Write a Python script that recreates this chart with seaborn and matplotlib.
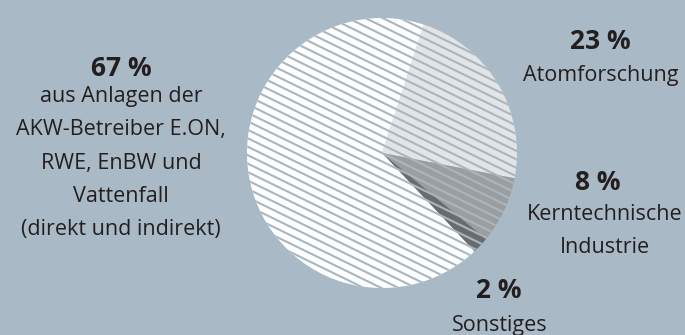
import numpy as np
import matplotlib
matplotlib.use("Agg")
import matplotlib.pyplot as plt
from matplotlib.collections import LineCollection
import seaborn as sns

# ---- data ----
shares = [23, 8, 2, 67]
pct_labels = ["23 %", "8 %", "2 %", "67 %"]
descriptions = [
    "Atomforschung",
    "Kerntechnische\nIndustrie",
    "Sonstiges",
    "aus Anlagen der\nAKW-Betreiber E.ON,\nRWE, EnBW und\nVattenfall\n(direkt und indirekt)",
]
slice_colors = ["#e4e4e4", "#9d9d9d", "#6b6b6b", "#ffffff"]

# ---- style ----
sns.set_theme(style="white")
plt.rcParams["font.family"] = ["Open Sans", "DejaVu Sans"]

W, H = 685, 335
BG = "#a9bac6"
HATCH = "#a6b7c3"
TXT = "#231f20"

fig = plt.figure(figsize=(W / 100, H / 100), dpi=100, facecolor=BG)
ax = fig.add_axes([0, 0, 1, 1])
ax.set_facecolor(BG)

cx, cy, R = 382, H - 153, 135
wedges, _ = ax.pie(shares, colors=slice_colors, startangle=72, counterclock=False,
                   center=(cx, cy), radius=R, wedgeprops=dict(linewidth=0))
ax.set_xlim(0, W)
ax.set_ylim(0, H)
ax.set_aspect("equal")
ax.axis("off")

# diagonal hatching clipped to each wedge
ang = np.deg2rad(-26)
d = np.array([np.cos(ang), np.sin(ang)])
n = np.array([-np.sin(ang), np.cos(ang)])
spacing = 7.6
ks = np.arange(-int(R * 1.2 / spacing), int(R * 1.2 / spacing) + 1)
segs = []
for k in ks:
    p = np.array([cx, cy]) + k * spacing * n
    segs.append([p - 1.3 * R * d, p + 1.3 * R * d])
for w in wedges:
    lc = LineCollection(segs, colors=HATCH, linewidths=1.5, zorder=w.get_zorder() + 0.1)
    ax.add_collection(lc)
    lc.set_clip_path(w)

# ---- labels ----
def Y(y):
    return H - y

label_pos = [
    ((600, 41.5), (601, 76)),
    ((598, 182), (605, 231)),
    ((499, 290), (500, 326)),
    ((121, 68), (121, 163)),
]
for (pp, dp), pl, desc in zip(label_pos, pct_labels, descriptions):
    ax.text(pp[0], Y(pp[1]), pl, ha="center", va="center", fontsize=19,
            fontweight="bold", color=TXT)
    ax.text(dp[0], Y(dp[1]), desc, ha="center", va="center", fontsize=15.5,
            color=TXT, linespacing=1.76, multialignment="center")

fig.savefig("out.png", dpi=100, facecolor=BG)
